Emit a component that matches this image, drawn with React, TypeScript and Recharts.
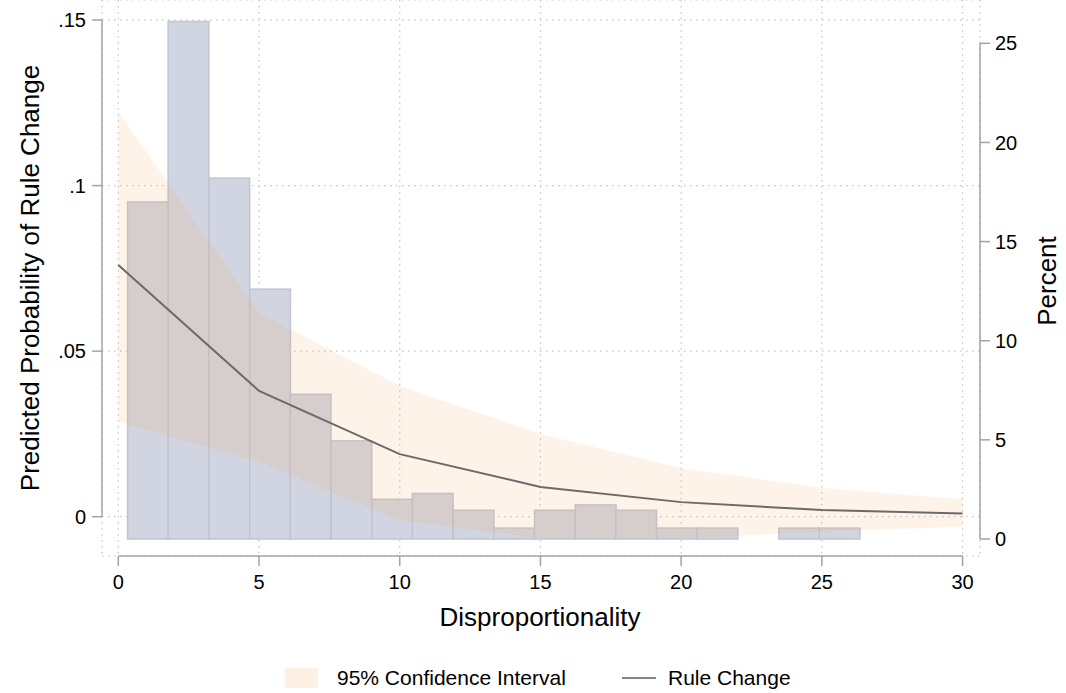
import React from "react";
import {
  ComposedChart,
  Bar,
  Area,
  Line,
  XAxis,
  YAxis,
  CartesianGrid,
  ReferenceLine,
  Label,
} from "recharts";

// histogram of disproportionality (percent of observations per bin)
const binCenters = [
  1.06, 2.5, 3.95, 5.4, 6.84, 8.29, 9.74, 11.18, 12.63, 14.07, 15.52, 16.97,
  18.41, 19.86, 21.3, 22.75, 24.2, 25.64,
];
const binPercent = [
  17.0, 26.1, 18.2, 12.6, 7.3, 4.95, 2.0, 2.3, 1.45, 0.55, 1.45, 1.72, 1.45,
  0.55, 0.55, 0, 0.55, 0.55,
];
const BIN_WIDTH = 1.446;

// predicted probability of rule change with 95% CI
const disp = [0, 5, 10, 15, 20, 25, 30];
const predicted = [0.076, 0.038, 0.0189, 0.009, 0.0044, 0.002, 0.001];
const ciLower = [0.0287, 0.0166, -0.001, -0.0066, -0.0066, -0.0045, -0.003];
const ciUpper = [0.1223, 0.0615, 0.0395, 0.025, 0.0146, 0.0087, 0.0053];

const xTicks = [0, 5, 10, 15, 20, 25, 30];
const probTicks = [0, 0.05, 0.1, 0.15];
const pctTicks = [0, 5, 10, 15, 20, 25];

const W = 1066;
const H = 693;
const LEFT_W = 102;
const RIGHT_W = 86;
const XAXIS_H = 137;
const PLOT_W = W - LEFT_W - RIGHT_W;
const X_DOMAIN: [number, number] = [-0.58, 30.62];
const PROB_DOMAIN: [number, number] = [-0.01187, 0.15605];
const PCT_DOMAIN: [number, number] = [-0.857, 27.184];

const FONT = '"Liberation Sans", Arial, Helvetica, sans-serif';
const AXIS = "#a3a3a3";
const GRID = "#c4c4c4";
const LINE = "#6a6a6a";
const BAR_FILL = "#d1d5e1";
const BAR_STROKE = "#c2c5d1";
const CI_FILL = "#f0a050";
const CI_SWATCH = "#fdf1e6";

const histRows = binCenters.map((x, i) => ({
  x,
  pct: binPercent[i] > 0 ? binPercent[i] : null,
}));
const fitRows = disp.map((x, i) => ({
  x,
  p: predicted[i],
  ci: [ciLower[i], ciUpper[i]],
}));
const rows = [...histRows, ...fitRows].sort((a, b) => a.x - b.x);

const barPx = (BIN_WIDTH * PLOT_W) / (X_DOMAIN[1] - X_DOMAIN[0]);

const HistBar = (props: any) => {
  const { x, y, width, height } = props;
  if (!(height > 0)) return <g />;
  const cx = x + width / 2;
  return (
    <rect
      x={cx - barPx / 2}
      y={y}
      width={barPx}
      height={height}
      fill={BAR_FILL}
      stroke={BAR_STROKE}
      strokeWidth={1.5}
    />
  );
};

const tickStyle = { fill: "#000", fontSize: 20, fontFamily: FONT };
const titleStyle = { fill: "#000", fontSize: 26, fontFamily: FONT };

const probFormat = (v: number) => (v === 0 ? "0" : String(v).replace(/^0/, ""));

export default function App() {
  return (
    <div
      style={{
        position: "absolute",
        left: 0,
        top: 0,
        width: W,
        height: H,
        background: "#fff",
        fontFamily: FONT,
      }}
    >
      <ComposedChart
        width={W}
        height={H}
        data={rows}
        margin={{ top: 0, right: 0, bottom: 0, left: 0 }}
      >
        <CartesianGrid
          xAxisId="x"
          yAxisId="left"
          stroke={GRID}
          strokeDasharray="1.5 4.5"
          strokeWidth={1.2}
        />
        <XAxis
          xAxisId="x"
          dataKey="x"
          type="number"
          domain={X_DOMAIN}
          ticks={xTicks}
          interval={0}
          allowDataOverflow
          axisLine={false}
          tickLine={{ stroke: AXIS, strokeWidth: 1.5 }}
          tickSize={10}
          tickMargin={9}
          tick={tickStyle}
          height={XAXIS_H}
        >
          <Label
            content={() => (
              <text x={540} y={617} textAnchor="middle" dominantBaseline="central" style={titleStyle}>
                Disproportionality
              </text>
            )}
          />
        </XAxis>
        <YAxis
          yAxisId="left"
          type="number"
          domain={PROB_DOMAIN}
          ticks={probTicks}
          interval={0}
          allowDataOverflow
          axisLine={false}
          tickLine={{ stroke: AXIS, strokeWidth: 1.5 }}
          tickSize={10}
          tickMargin={6}
          tick={tickStyle}
          tickFormatter={probFormat}
          width={LEFT_W}
        >
          <Label
            content={() => (
              <text
                x={30}
                y={278}
                transform="rotate(-90 30 278)"
                textAnchor="middle"
                dominantBaseline="central"
                style={titleStyle}
              >
                Predicted Probability of Rule Change
              </text>
            )}
          />
        </YAxis>
        <YAxis
          yAxisId="right"
          orientation="right"
          type="number"
          domain={PCT_DOMAIN}
          ticks={pctTicks}
          interval={0}
          allowDataOverflow
          axisLine={false}
          tickLine={{ stroke: AXIS, strokeWidth: 1.5 }}
          tickSize={10}
          tickMargin={5}
          tick={tickStyle}
          width={RIGHT_W}
        >
          <Label
            content={() => (
              <text
                x={1047}
                y={281}
                transform="rotate(-90 1047 281)"
                textAnchor="middle"
                dominantBaseline="central"
                style={titleStyle}
              >
                Percent
              </text>
            )}
          />
        </YAxis>

        <Bar
          xAxisId="x"
          yAxisId="right"
          dataKey="pct"
          barSize={barPx}
          shape={HistBar}
          isAnimationActive={false}
        />
        {/* the CI band is laid over the histogram, as in the original */}
        <Area
          xAxisId="x"
          yAxisId="left"
          type="linear"
          dataKey="ci"
          fill={CI_FILL}
          fillOpacity={0.13}
          stroke="none"
          connectNulls
          dot={false}
          activeDot={false}
          isAnimationActive={false}
          {...({ zIndex: 350 } as any)}
        />
        <Line
          xAxisId="x"
          yAxisId="left"
          type="linear"
          dataKey="p"
          stroke={LINE}
          strokeWidth={2}
          connectNulls
          dot={false}
          activeDot={false}
          isAnimationActive={false}
        />

        {/* axis lines, only over the labelled range as in the original */}
        <ReferenceLine
          xAxisId="x"
          yAxisId="left"
          segment={[
            { x: 0, y: PROB_DOMAIN[0] },
            { x: 30, y: PROB_DOMAIN[0] },
          ]}
          stroke={AXIS}
          strokeWidth={1.5}
          ifOverflow="visible"
        />
        <ReferenceLine
          xAxisId="x"
          yAxisId="left"
          segment={[
            { x: X_DOMAIN[0], y: 0 },
            { x: X_DOMAIN[0], y: 0.15 },
          ]}
          stroke={AXIS}
          strokeWidth={1.5}
          ifOverflow="visible"
        />
        <ReferenceLine
          xAxisId="x"
          yAxisId="right"
          segment={[
            { x: X_DOMAIN[1], y: 0 },
            { x: X_DOMAIN[1], y: 25 },
          ]}
          stroke={AXIS}
          strokeWidth={1.5}
          ifOverflow="visible"
        />
      </ComposedChart>

      {/* legend */}
      <div style={{ position: "absolute", left: 285, top: 668, width: 33, height: 20, background: CI_SWATCH }} />
      <div style={{ position: "absolute", left: 337, top: 665, fontSize: 21, lineHeight: "26px", color: "#000" }}>
        95% Confidence Interval
      </div>
      <div style={{ position: "absolute", left: 622, top: 677, width: 34, height: 2, background: "#858585" }} />
      <div style={{ position: "absolute", left: 668, top: 665, fontSize: 21, lineHeight: "26px", color: "#000" }}>
        Rule Change
      </div>
    </div>
  );
}
